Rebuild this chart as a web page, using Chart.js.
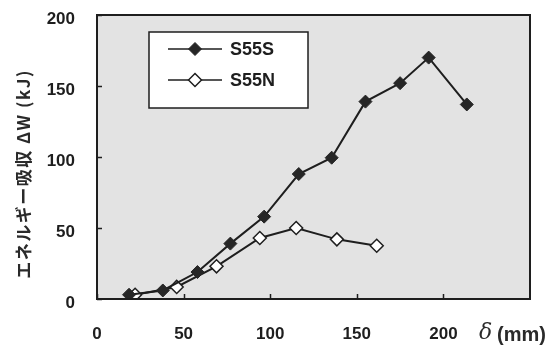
<!DOCTYPE html>
<html>
<head>
<meta charset="utf-8">
<script src="https://cdn.jsdelivr.net/npm/chart.js@4/dist/chart.umd.min.js"></script>
<style>
  html, body { margin: 0; padding: 0; background: #fff; }
  #wrap { width: 560px; height: 347px; }
</style>
</head>
<body>
<div id="wrap"><canvas id="c" width="560" height="347"></canvas></div>
<script>
// Displacement δ (mm) and energy absorption ΔW (kJ)
const s55sDelta = [18.5, 38, 58, 77, 96.5, 116.5, 135.5, 155, 175, 191.5, 213.5];
const s55sEnergy = [3, 6, 19, 39, 58, 88, 99.5, 139, 152, 170, 137];
const s55nDelta = [22, 46, 69, 94, 115, 138.5, 161.5];
const s55nEnergy = [3, 8.5, 23, 43, 50, 42, 37.5];

const xTicks = [0, 50, 100, 150, 200];
const yTicks = [0, 50, 100, 150, 200];
const seriesNames = ['S55S', 'S55N'];
const yTitle = 'エネルギー吸収 ΔW (kJ)';

const INK = '#1e1e1e';
const TICK_FONT = { family: '"Liberation Sans", Arial, sans-serif', size: 17, weight: 'bold' };

const toPoints = (xs, ys) => xs.map((x, i) => ({ x, y: ys[i] }));

// Plot-area fill, inward tick marks, frame, legend and axis titles
const decorations = {
  id: 'decorations',
  beforeDatasetsDraw(chart) {
    const { ctx, chartArea: a } = chart;
    ctx.save();
    ctx.fillStyle = '#e3e3e3';
    ctx.fillRect(a.left, a.top, a.right - a.left, a.bottom - a.top);
    ctx.restore();
  },
  afterDatasetsDraw(chart) {
    const { ctx, chartArea: a, scales } = chart;
    ctx.save();
    ctx.strokeStyle = INK;
    ctx.lineWidth = 1.5;
    // inward ticks
    ctx.beginPath();
    xTicks.forEach(v => {
      const px = Math.round(scales.x.getPixelForValue(v)) + 0.5;
      ctx.moveTo(px, a.bottom);
      ctx.lineTo(px, a.bottom - 5);
    });
    yTicks.forEach(v => {
      const py = Math.round(scales.y.getPixelForValue(v)) + 0.5;
      ctx.moveTo(a.left, py);
      ctx.lineTo(a.left + 5, py);
    });
    ctx.stroke();
    // frame
    ctx.lineWidth = 2;
    ctx.strokeRect(a.left, a.top, a.right - a.left, a.bottom - a.top);

    // legend
    const lx = 149, ly = 32, lw = 159, lh = 76;
    ctx.fillStyle = '#ffffff';
    ctx.fillRect(lx, ly, lw, lh);
    ctx.lineWidth = 1.5;
    ctx.strokeRect(lx, ly, lw, lh);
    chart.data.datasets.forEach((ds, i) => {
      const cy = ly + 17 + i * 31;
      ctx.strokeStyle = INK;
      ctx.lineWidth = 1.5;
      ctx.beginPath();
      ctx.moveTo(168, cy);
      ctx.lineTo(222, cy);
      ctx.stroke();
      ctx.fillStyle = ds.pointBackgroundColor;
      ctx.strokeStyle = ds.pointBorderColor;
      ctx.lineWidth = ds.pointBorderWidth;
      Chart.helpers.drawPoint(ctx, { pointStyle: 'rectRot', radius: 6.5, borderWidth: ds.pointBorderWidth }, 195, cy);
      ctx.fillStyle = INK;
      ctx.font = 'bold 18px "Liberation Sans", Arial, sans-serif';
      ctx.textAlign = 'left';
      ctx.textBaseline = 'middle';
      ctx.fillText(ds.label, 230, cy + 1);
    });

    // y-axis title
    ctx.save();
    ctx.translate(24, 174);
    ctx.rotate(-Math.PI / 2);
    ctx.fillStyle = '#2a2a2a';
    ctx.font = 'bold 17px "Noto Sans CJK JP", sans-serif';
    ctx.letterSpacing = '1.5px';
    ctx.textAlign = 'center';
    ctx.textBaseline = 'middle';
    ctx.fillText(yTitle, 0, 0);
    ctx.restore();

    // x-axis title
    ctx.fillStyle = '#2a2a2a';
    ctx.textBaseline = 'middle';
    ctx.textAlign = 'left';
    ctx.font = 'italic 22px "DejaVu Serif", serif';
    ctx.fillText('δ', 479, 333);
    ctx.font = 'bold 20px "Liberation Sans", Arial, sans-serif';
    ctx.fillText('(mm)', 497, 335);
    ctx.restore();
  }
};

new Chart(document.getElementById('c'), {
  type: 'scatter',
  data: {
    datasets: [
      {
        label: seriesNames[0],
        data: toPoints(s55sDelta, s55sEnergy),
        showLine: true,
        borderColor: INK,
        borderWidth: 2,
        pointStyle: 'rectRot',
        pointRadius: 6.5,
        pointBackgroundColor: '#262626',
        pointBorderColor: '#262626',
        pointBorderWidth: 1
      },
      {
        label: seriesNames[1],
        data: toPoints(s55nDelta, s55nEnergy),
        showLine: true,
        borderColor: INK,
        borderWidth: 2,
        pointStyle: 'rectRot',
        pointRadius: 6.5,
        pointBackgroundColor: '#ffffff',
        pointBorderColor: INK,
        pointBorderWidth: 1.5
      }
    ]
  },
  options: {
    responsive: false,
    animation: false,
    layout: { padding: { top: 15, right: 30, left: 0, bottom: 0 } },
    plugins: { legend: { display: false }, tooltip: { enabled: false } },
    scales: {
      x: {
        type: 'linear',
        min: 0,
        max: 250,
        afterBuildTicks: s => { s.ticks = xTicks.map(v => ({ value: v })); },
        afterFit: s => { s.height = 48; s.paddingLeft = 0; s.paddingRight = 0; },
        grid: { display: false },
        border: { display: false },
        ticks: { color: INK, font: TICK_FONT, padding: 17, maxRotation: 0 }
      },
      y: {
        type: 'linear',
        min: 0,
        max: 200,
        afterBuildTicks: s => { s.ticks = yTicks.map(v => ({ value: v })); },
        afterFit: s => { s.width = 97; s.paddingTop = 0; s.paddingBottom = 0; },
        grid: { display: false },
        border: { display: false },
        ticks: { color: INK, font: TICK_FONT, padding: 14, labelOffset: 4 }
      }
    }
  },
  plugins: [decorations]
});
</script>
</body>
</html>
